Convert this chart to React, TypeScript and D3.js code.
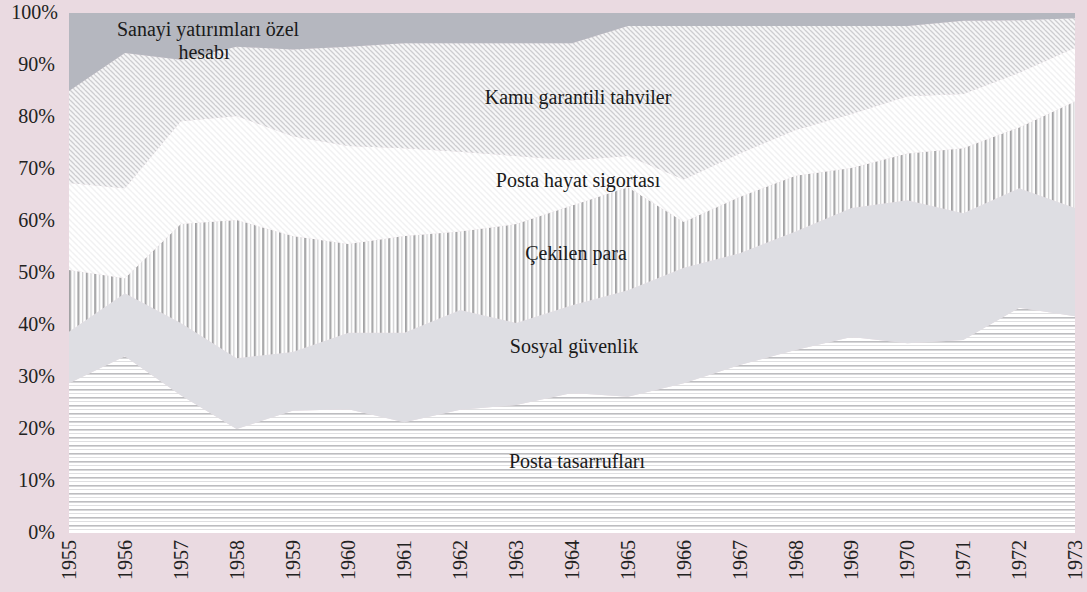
import React from "react";
import * as d3 from "d3";

const years = [1955,1956,1957,1958,1959,1960,1961,1962,1963,1964,1965,1966,1967,1968,1969,1970,1971,1972,1973];
const postaTasarruf = [28.8,34,26.5,20,23.5,23.8,21.3,23.7,24.6,26.9,26.2,28.8,32.3,35.2,37.7,36.5,37.1,43.3,41.7];
const sosyalGuvenlik = [9.9,12.1,13.9,13.6,11.3,14.7,17.2,19.2,15.8,16.9,20.5,22.2,21.5,22.8,24.8,27.5,24.4,23.0,20.8];
const cekilenPara = [11.9,2.9,19.0,26.6,22.3,17.1,18.6,15.1,19.0,19.2,19.8,8.8,10.8,10.7,7.7,9.0,12.5,11.7,20.5];
const postaHayat = [16.7,17.3,19.8,20.0,19.2,18.8,16.9,15.3,13.1,8.7,6.0,8.2,8.4,8.8,10.4,11.0,10.4,10.5,10.3];
const kamuTahvil = [17.7,26.0,11.8,13.3,16.7,19.1,20.2,20.9,21.7,22.5,25.0,29.5,24.5,20.0,16.9,13.5,14.1,10.1,5.7];
const sanayi = [15,7.7,9,6.5,7,6.5,5.8,5.8,5.8,5.8,2.5,2.5,2.5,2.5,2.5,2.5,1.5,1.4,1];
const yTicks = [0,10,20,30,40,50,60,70,80,90,100];
const seriesKeys = ["tas","sos","cek","hay","kamu","san"];

const labels = [
  { text: "Sanayi yatırımları özel", x: 208, y: 36 },
  { text: "hesabı", x: 204, y: 59 },
  { text: "Kamu garantili tahviler", x: 578, y: 104 },
  { text: "Posta hayat sigortası", x: 578, y: 187 },
  { text: "Çekilen para", x: 576, y: 260 },
  { text: "Sosyal güvenlik", x: 574, y: 353 },
  { text: "Posta tasarrufları", x: 577, y: 468 },
];

const W = 1087, H = 592;
const M = { left: 69, right: 1075, top: 13, bottom: 533 };
const FONT = "'Liberation Serif', 'DejaVu Serif', serif";

export default function App() {
  const rows = years.map((y, i) => ({
    year: y,
    tas: postaTasarruf[i], sos: sosyalGuvenlik[i], cek: cekilenPara[i],
    hay: postaHayat[i], kamu: kamuTahvil[i], san: sanayi[i],
  }));
  const stack = d3.stack<any>().keys(seriesKeys);
  const layers = stack(rows);
  const x = d3.scaleLinear().domain([1955, 1973]).range([M.left, M.right]);
  const y = d3.scaleLinear().domain([0, 100]).range([M.bottom, M.top]);
  const area = d3.area<any>()
    .x((d) => x(d.data.year))
    .y0((d) => y(d[0]))
    .y1((d) => Math.max(M.top, y(Math.min(100, d[1]))));
  const fills: Record<string, string> = {
    tas: "url(#pTas)", sos: "#dedee3", cek: "url(#pCek)",
    hay: "url(#pHay)", kamu: "url(#pKamu)", san: "#b5b7bf",
  };
  return (
    <div style={{ position: "fixed", left: 0, top: 0 }}>
      <svg width={W} height={H} style={{ display: "block" }}>
        <defs>
          <pattern id="pTas" width="10" height="8" patternUnits="userSpaceOnUse" y={M.bottom}>
            <rect width="10" height="8" fill="#ffffff" />
            <rect y="0" width="10" height="1.6" fill="#bdbdc0" />
            <rect y="4" width="10" height="1" fill="#dfdfe1" />
          </pattern>
          <pattern id="pCek" width="8.4" height="10" patternUnits="userSpaceOnUse" x={M.left}>
            <rect width="8.4" height="10" fill="#ffffff" />
            <rect x="0" width="1.8" height="10" fill="#a2a2a4" />
            <rect x="1.8" width="0.8" height="10" fill="#dadada" />
            <rect x="4.6" width="1.3" height="10" fill="#d0d0d2" />
          </pattern>
          <pattern id="pHay" width="6" height="6" patternUnits="userSpaceOnUse">
            <rect width="6" height="6" fill="#ffffff" />
            <path d="M0,0 L6,6 M-3,3 L0,6 M3,-3 L9,3" stroke="#f1f1f2" strokeWidth="1.4" />
          </pattern>
          <pattern id="pKamu" width="5" height="5" patternUnits="userSpaceOnUse">
            <rect width="5" height="5" fill="#f6f6f7" />
            <path d="M0,0 L5,5 M-2.5,2.5 L0,5 M2.5,-2.5 L7.5,2.5" stroke="#cdcdd0" strokeWidth="1.3" />
          </pattern>
        </defs>
        <rect width={W} height={H} fill="#eadae1" />
        {layers.map((l: any) => (
          <path key={l.key} d={area(l) || ""} fill={fills[l.key]} />
        ))}
        {yTicks.map((t) => (
          <text key={t} x={t === 100 ? 58 : 55} y={y(t) + 6} textAnchor="end"
            fontFamily={FONT} fontSize={20} fill="#222">{t}%</text>
        ))}
        {years.map((yr) => (
          <text key={yr} transform={`translate(${x(yr) + 7},540) rotate(-90)`}
            textAnchor="end" fontFamily={FONT} fontSize={20} fill="#222">{yr}</text>
        ))}
        {labels.map((lb, i) => (
          <text key={i} x={lb.x} y={lb.y} textAnchor="middle" fontFamily={FONT}
            fontSize={20} fill="#1a1a1a">{lb.text}</text>
        ))}
      </svg>
    </div>
  );
}
